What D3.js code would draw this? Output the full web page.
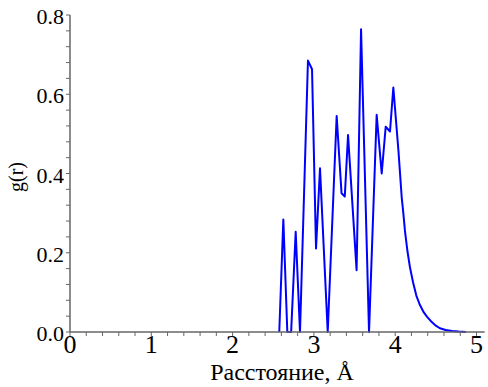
<!DOCTYPE html>
<html><head><meta charset="utf-8">
<script src="https://cdn.jsdelivr.net/npm/d3@7"></script>
<style>body{margin:0;background:#fff}svg{display:block}
text{font-family:"Liberation Serif","Times New Roman","DejaVu Serif",serif;fill:#000}</style>
</head><body>
<script>
const rValues = [2.574,2.624,2.673,2.72,2.776,2.829,2.927,2.977,3.026,3.075,3.17,3.28,3.34,3.38,3.42,3.525,3.58,3.678,3.772,3.834,3.883,3.936,3.977,4.04,4.08,4.10,4.12,4.15,4.18,4.22,4.26,4.30,4.35,4.39,4.45,4.50,4.55,4.62,4.70,4.78,4.87];
const gValues = [0,0.284,0,0,0.253,0,0.685,0.663,0.211,0.413,0,0.545,0.35,0.342,0.497,0.156,0.764,0,0.548,0.40,0.518,0.506,0.617,0.457,0.34,0.30,0.255,0.205,0.165,0.125,0.092,0.07,0.05,0.039,0.025,0.016,0.0095,0.005,0.0025,0.001,0];
const xTicks = [0,1,2,3,4,5];
const yTicks = [0.0,0.2,0.4,0.6,0.8];
const xTitle = "Расстояние, Å";
const yTitle = "g(r)";

const W=488,H=387;
const svg=d3.select("body").append("svg").attr("width",W).attr("height",H);
const x=d3.scaleLinear().domain([0,5.1]).range([70,70+5.1*81.3]);
const y=d3.scaleLinear().domain([0,0.8]).range([332,15]);
const axisCol="#666";

const data=rValues.map((r,i)=>[r,gValues[i]]);
svg.append("path").datum(data)
  .attr("d",d3.line().x(d=>x(d[0])).y(d=>y(d[1])))
  .attr("fill","none").attr("stroke","#0000ff").attr("stroke-width",2).attr("stroke-linejoin","round");

const xa=svg.append("g").attr("transform","translate(0,332)");
xa.append("line").attr("x1",x(0)).attr("x2",x(5.1)).attr("stroke",axisCol).attr("stroke-width",1.5);
xa.selectAll("line.t").data(d3.range(0,5.11,0.2)).enter().append("line").attr("class","t")
  .attr("x1",d=>x(d)).attr("x2",d=>x(d)).attr("y1",0).attr("y2",4).attr("stroke",axisCol).attr("stroke-width",1);
xa.selectAll("text").data(xTicks).enter().append("text")
  .attr("x",d=>x(d)).attr("y",21).attr("text-anchor","middle")
  .attr("font-size",26).text(d=>d);

const ya=svg.append("g").attr("transform","translate(70,0)");
ya.append("line").attr("y1",y(0)).attr("y2",y(0.8)).attr("stroke",axisCol).attr("stroke-width",1.5);
ya.selectAll("line.t").data(d3.range(0,0.801,0.04)).enter().append("line").attr("class","t")
  .attr("y1",d=>y(d)).attr("y2",d=>y(d)).attr("x1",0).attr("x2",-4).attr("stroke",axisCol).attr("stroke-width",1);
ya.selectAll("text").data(yTicks).enter().append("text")
  .attr("x",-6).attr("y",d=>y(d)+9).attr("text-anchor","end")
  .attr("font-size",22).text(d=>d.toFixed(1));

svg.append("text").attr("x",282).attr("y",380).attr("text-anchor","middle")
  .attr("font-size",24).text(xTitle);
svg.append("text").attr("transform","translate(23,177) rotate(-90)").attr("text-anchor","middle")
  .attr("font-size",20).text(yTitle);
</script>
</body></html>
